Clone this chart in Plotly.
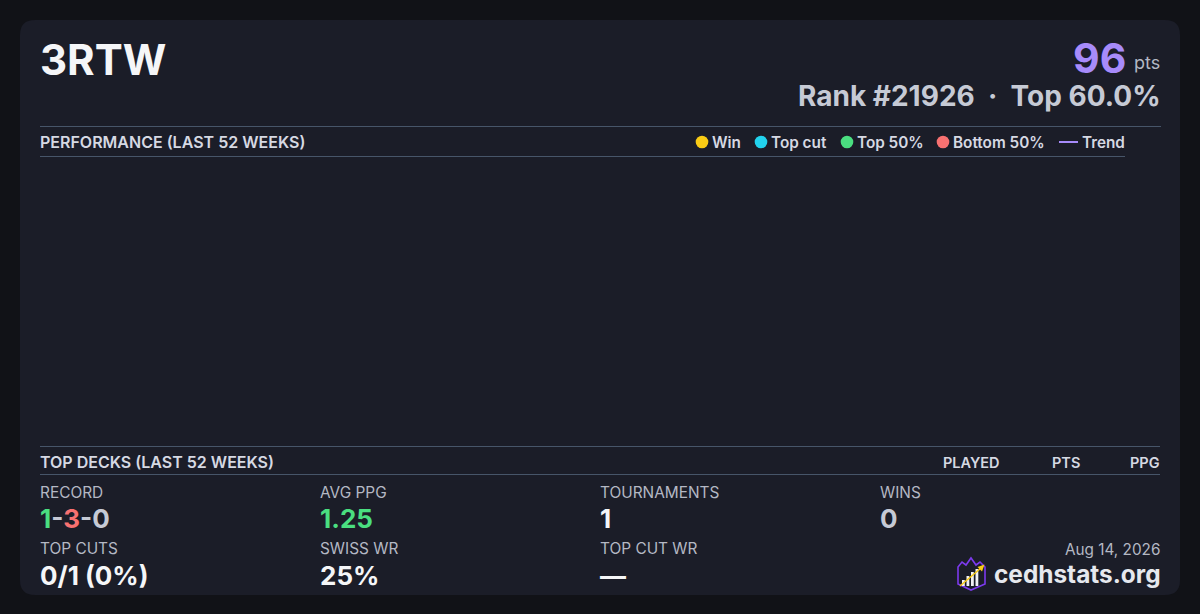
import plotly.graph_objects as go

player_name = "3RTW"
points = 96
rank = 21926
top_pct = 60.0

record = [1, 3, 0]          # wins, losses, draws
avg_ppg = 1.25
tournaments = 1
wins = 0
top_cuts = [0, 1]           # made, eligible
swiss_wr = 25
top_cut_wr = None           # no top cut games -> dash

report_date = "Aug 14, 2026"
site = "cedhstats.org"

legend_labels = ["Win", "Top cut", "Top 50%", "Bottom 50%", "Trend"]
legend_colors = ["#facc15", "#22d3ee", "#4ade80", "#f87171", "#a78bfa"]
deck_columns = ["PLAYED", "PTS", "PPG"]

# performance window has no plotted results
perf_weeks = []
perf_points = []

# ---- styling ----
FONT = "Inter"
PAGE_BG = "#111217"
CARD_BG = "#1b1d28"
RULE = "#475569"
HEAD = "#d6d9e3"
LABEL = "#b4b8c4"
GREY = "#c6cad5"
WHITE = "#f5f6f8"
GREEN = "#4ade80"
RED = "#f87171"
PURPLE = "#a78bfa"

W, H = 1200, 614
LEFT, RIGHT = 40, 1160
TL = LEFT - 2      # left text anchor (annotation pad)
TR = RIGHT + 2     # right text anchor

fig = go.Figure()

# empty performance series (keeps the cartesian pixel frame alive)
for label, color in zip(legend_labels[:4], legend_colors[:4]):
    fig.add_trace(go.Scatter(x=perf_weeks, y=perf_points, mode="markers",
                             name=label, marker=dict(color=color, size=10),
                             showlegend=False, hoverinfo="skip"))
fig.add_trace(go.Scatter(x=perf_weeks, y=perf_points, mode="lines", name="Trend",
                         line=dict(color=PURPLE, width=2), showlegend=False,
                         hoverinfo="skip"))

shapes = []
annotations = []


def text(x, y, s, size, color, weight=400, anchor="left"):
    annotations.append(dict(
        x=x, y=y, xref="x", yref="y", text=s, showarrow=False,
        xanchor=anchor, yanchor="middle",
        font=dict(family=FONT, size=size, color=color, weight=weight),
    ))


def hline(y, x0, x1):
    shapes.append(dict(type="line", xref="x", yref="y", x0=x0, x1=x1, y0=y, y1=y,
                       line=dict(color=RULE, width=1)))


# card with rounded corners
r = 15
x0, y0, x1, y1 = 20, 20, 1180, 595
card_path = (f"M {x0 + r},{y0} L {x1 - r},{y0} Q {x1},{y0} {x1},{y0 + r} "
             f"L {x1},{y1 - r} Q {x1},{y1} {x1 - r},{y1} L {x0 + r},{y1} "
             f"Q {x0},{y1} {x0},{y1 - r} L {x0},{y0 + r} Q {x0},{y0} {x0 + r},{y0} Z")
shapes.append(dict(type="path", xref="x", yref="y", path=card_path,
                   fillcolor=CARD_BG, line=dict(width=0), layer="below"))

# header
text(TL, 59, player_name, 42, WHITE, 700)
text(1128, 58, f"{points}", 41, PURPLE, 700, "right")
text(1132, 62, "pts", 18, LABEL, 400)
text(TR + 1, 96, f"Rank #{rank}&nbsp;&nbsp;·&nbsp;&nbsp;Top {top_pct:.1f}%", 28, GREY, 700, "right")

# performance section header
hline(126.5, LEFT, 1161)
text(TL, 142, "PERFORMANCE (LAST 52 WEEKS)", 16, HEAD, 600)
hline(156.5, LEFT, 1125)

legend_x = [702, 761, 847, 943, 1068]
for i, (label, color) in enumerate(zip(legend_labels, legend_colors)):
    cx = legend_x[i]
    if label == "Trend":
        shapes.append(dict(type="line", xref="x", yref="y", x0=cx - 9, x1=cx + 10,
                           y0=142, y1=142, line=dict(color=color, width=2)))
        text(cx + 12, 142, label, 15.3, HEAD, 600)
    else:
        shapes.append(dict(type="circle", xref="x", yref="y", x0=cx - 6.3, x1=cx + 6.3,
                           y0=135.7, y1=148.3, fillcolor=color, line=dict(width=0)))
        text(cx + 8, 142, label, 15.3, HEAD, 600)

# top decks header
hline(446.5, LEFT, RIGHT)
text(TL, 462, "TOP DECKS (LAST 52 WEEKS)", 16, HEAD, 600)
deck_col_x = [1002, 1082, TR]
for label, cx in zip(deck_columns, deck_col_x):
    text(cx, 462, label, 14.5, HEAD, 600, "right")
hline(474.5, LEFT, RIGHT)

# stats grid
w_, l_, d_ = record
record_txt = (f"<span style='color:{GREEN}'>{w_}</span>-"
              f"<span style='color:{RED}'>{l_}</span>-{d_}")
made, eligible = top_cuts
cut_pct = 0 if eligible == 0 else round(100 * made / eligible)
stats = [
    ("RECORD", record_txt, GREY),
    ("AVG PPG", f"{avg_ppg:.2f}", GREEN),
    ("TOURNAMENTS", f"{tournaments}", WHITE),
    ("WINS", f"{wins}", GREY),
    ("TOP CUTS", f"{made}/{eligible} ({cut_pct}%)", WHITE),
    ("SWISS WR", f"{swiss_wr}%", WHITE),
    ("TOP CUT WR", "—" if top_cut_wr is None else f"{top_cut_wr}%", WHITE),
]
col_x = [40, 320, 600, 880]
label_y = [492, 548]
value_y = [518, 575]
for i, (label, value, color) in enumerate(stats):
    row, col = divmod(i, 4)
    text(col_x[col] - 2, label_y[row], label, 15.4, LABEL, 400)
    text(col_x[col] - 2, value_y[row], value, 26, color, 700)

# footer: date and site mark
text(TR, 549, report_date, 15.3, LABEL, 400, "right")
text(TR + 1, 574, site, 24.4, "#e6e8ee", 700, "right")

# small shield logo
shield = ("M 958,567 L 962,562 L 966,565 L 971,558 L 976,565 L 980,562 L 985,567 "
          "L 985,584 L 971,590 L 958,584 Z")
shapes.append(dict(type="path", xref="x", yref="y", path=shield,
                   fillcolor=CARD_BG, line=dict(color="#7c3aed", width=1.6)))
for bx, top in [(962, 580), (966.5, 576), (971, 572), (975.5, 569)]:
    shapes.append(dict(type="rect", xref="x", yref="y", x0=bx, x1=bx + 2.8,
                       y0=top, y1=586, fillcolor="#f1f1f4", line=dict(width=0)))
shapes.append(dict(type="line", xref="x", yref="y", x0=960, y0=586, x1=981, y1=568,
                   line=dict(color="#facc15", width=1.5)))
shapes.append(dict(type="path", xref="x", yref="y",
                   path="M 984.5,564.5 L 977.5,567 L 982,571.5 Z",
                   fillcolor="#facc15", line=dict(width=0)))

fig.update_layout(
    width=W, height=H,
    margin=dict(l=0, r=0, t=0, b=0),
    paper_bgcolor=PAGE_BG,
    plot_bgcolor=PAGE_BG,
    showlegend=False,
    xaxis=dict(range=[0, W], visible=False, fixedrange=True),
    yaxis=dict(range=[H, 0], visible=False, fixedrange=True),
    shapes=shapes,
    annotations=annotations,
    font=dict(family=FONT),
)

fig.write_html(
    "out.html",
    config={"displayModeBar": False},
    post_script="document.body.style.margin='0';document.body.style.background='#111217';",
)
